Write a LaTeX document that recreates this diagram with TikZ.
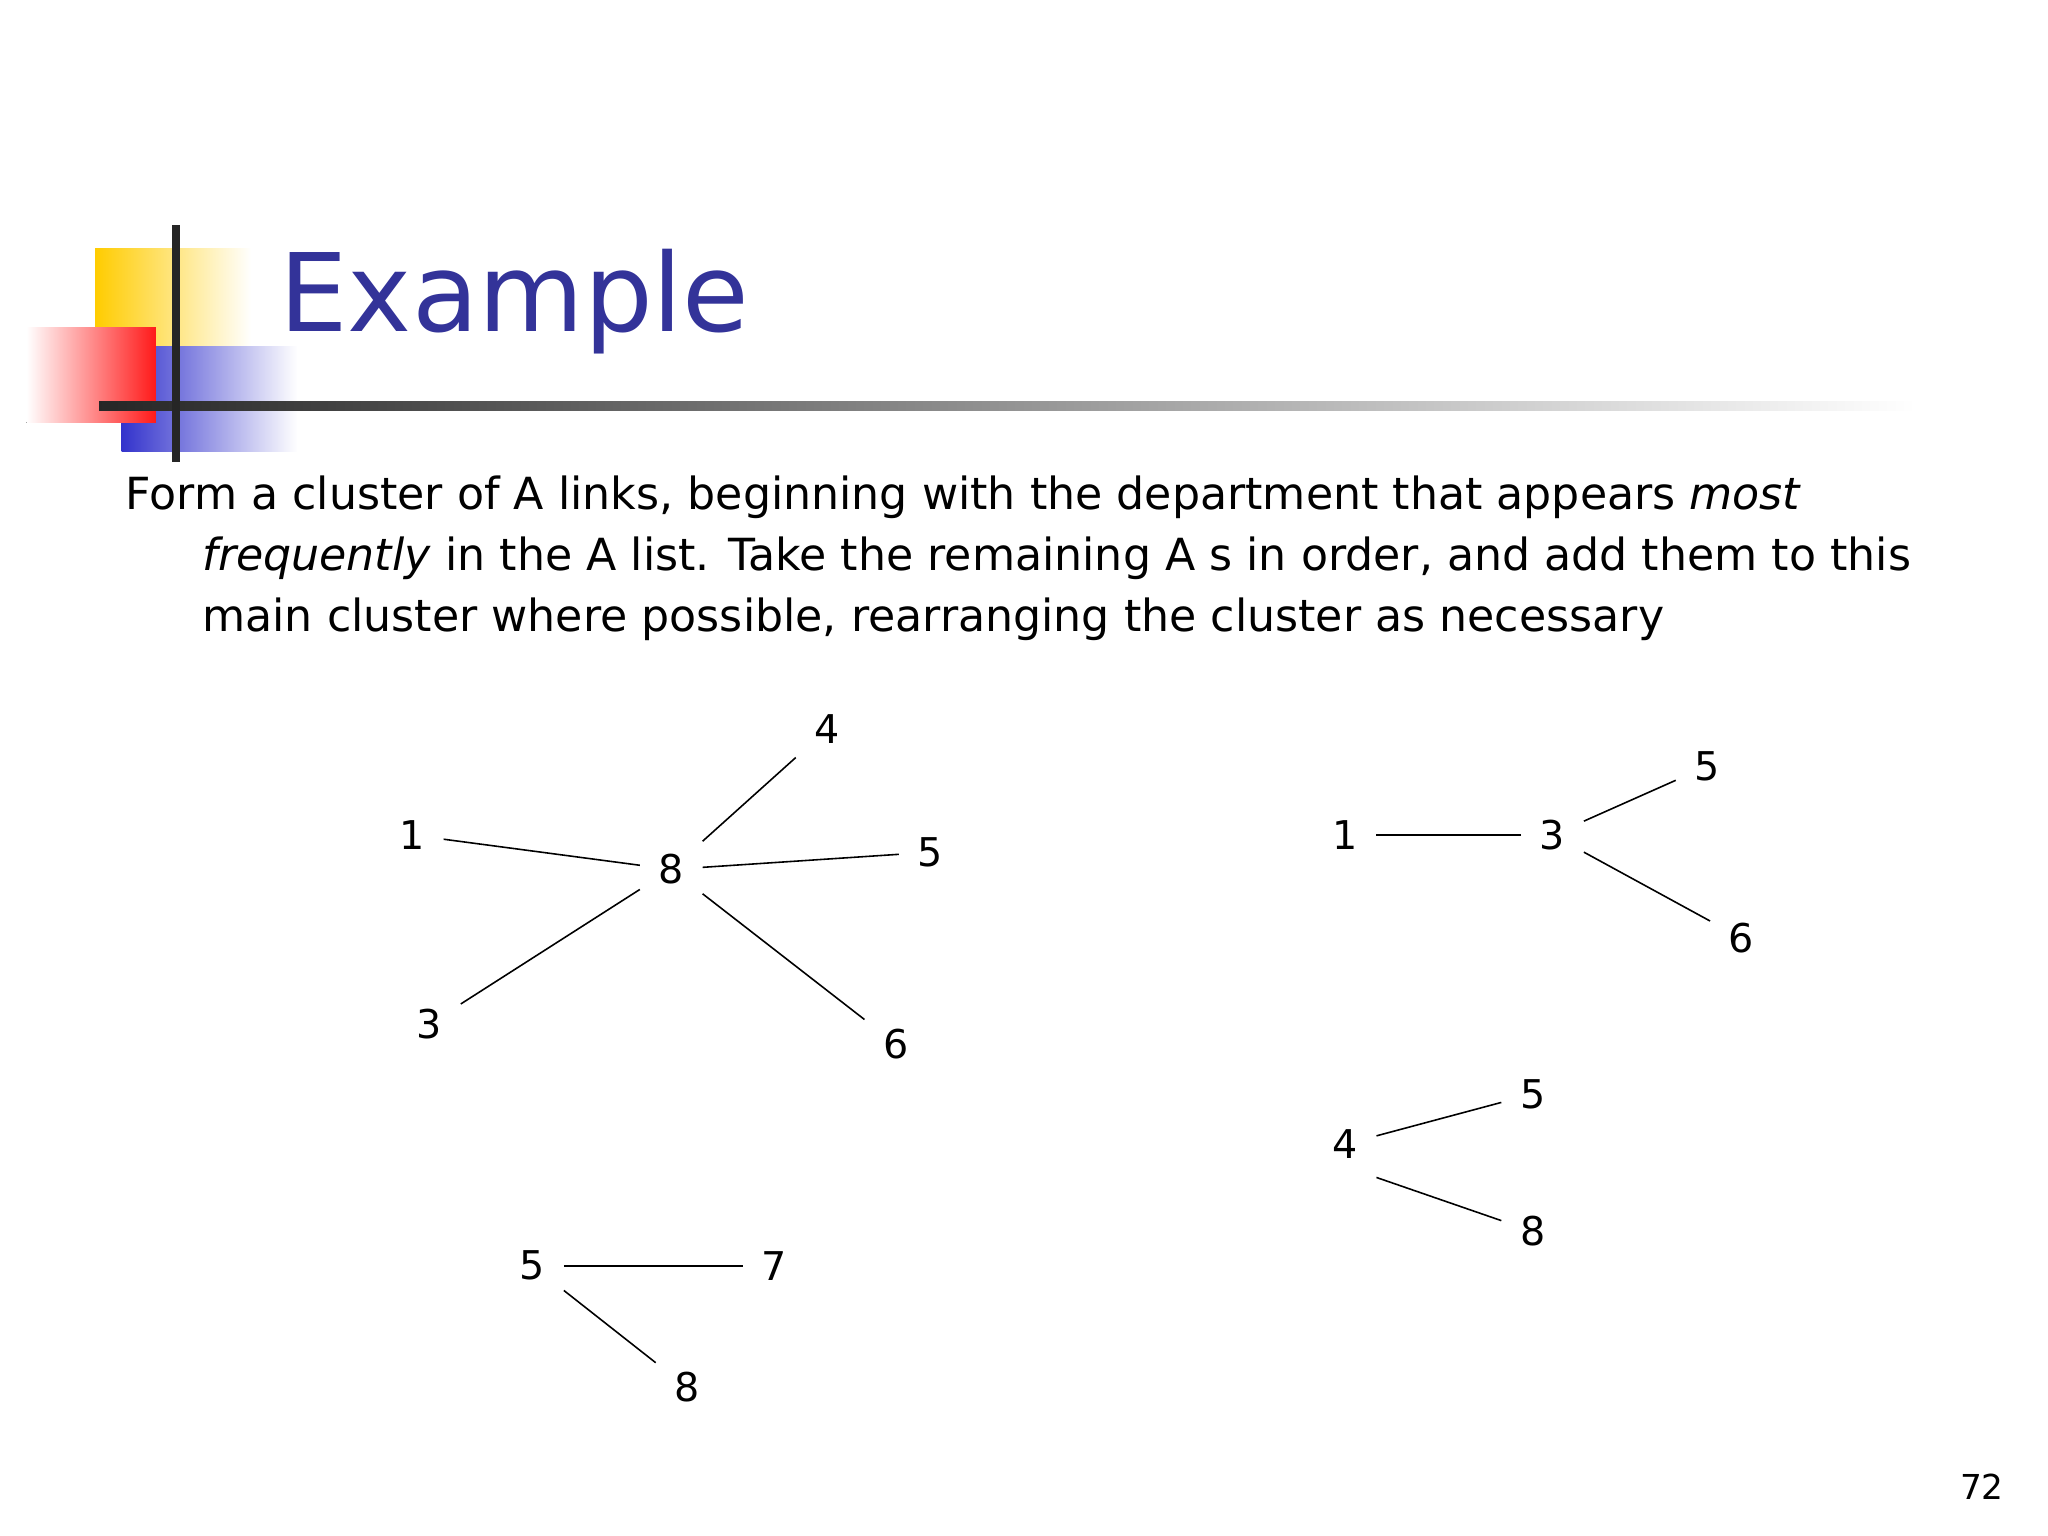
\documentclass[tikz,border=0pt]{standalone}
\usepackage{fontspec}
\setmainfont{DejaVu Sans}
\definecolor{ttl}{RGB}{51,51,153}
\definecolor{gold}{RGB}{255,204,0}
\definecolor{bblue}{RGB}{51,51,204}
\begin{document}
\begin{tikzpicture}[x=1pt,y=-1pt,
  num/.style={font=\fontsize{30}{34}\selectfont, inner sep=14pt},
  edge/.style={line width=1.2pt}]
\useasboundingbox[fill=white] (0,0) rectangle (1550,1162);
% decoration
\fill[left color=gold, right color=white] (72,188) rectangle (190,262);
\fill[left color=bblue, right color=white] (92,262) rectangle (225,342);
\fill[right color=red!90, left color=white] (20,248) rectangle (118,320);
\shade[left color=black!85, right color=white] (75,304) rectangle (1450,311);
\fill[black!85] (130,170) rectangle (136,350);
\node[anchor=west, text=ttl, font=\fontsize{82}{90}\selectfont] (title) at (208,228) {Example};
\node[anchor=north west, align=left, font=\fontsize{33.5}{46}\selectfont, inner sep=0pt] (body) at (95,360)
 {Form a cluster of A links, beginning with the department that appears \textit{most}\\
 \hspace*{58pt}\textit{frequently} in the A list. Take the remaining A s in order, and add them to this\\
 \hspace*{58pt}main cluster where possible, rearranging the cluster as necessary};
% cluster 1
\node[num] (a1) at (312,632) {1};
\node[num] (a8) at (508,658) {8};
\node[num] (a4) at (626,552) {4};
\node[num] (a5) at (704,645) {5};
\node[num] (a3) at (325,775) {3};
\node[num] (a6) at (678,790) {6};
\foreach \t in {a1,a4,a5,a3,a6} \draw[edge] (a8) -- (\t);
% cluster 2
\node[num] (b1) at (1018,632) {1};
\node[num] (b3) at (1175,632) {3};
\node[num] (b5) at (1292,580) {5};
\node[num] (b6) at (1318,710) {6};
\foreach \t in {b1,b5,b6} \draw[edge] (b3) -- (\t);
% cluster 3
\node[num] (c4) at (1018,866) {4};
\node[num] (c5) at (1160,828) {5};
\node[num] (c8) at (1160,932) {8};
\draw[edge] (c4) -- (c5);
\draw[edge] (c4.south east) -- (c8);
% cluster 4
\node[num] (d5) at (403,958) {5};
\node[num] (d7) at (586,958) {7};
\node[num] (d8) at (520,1050) {8};
\draw[edge] (d5) -- (d7);
\draw[edge] (d5) -- (d8);
\node[font=\fontsize{26}{30}\selectfont] (pg) at (1500,1125) {72};
\end{tikzpicture}
\end{document}
